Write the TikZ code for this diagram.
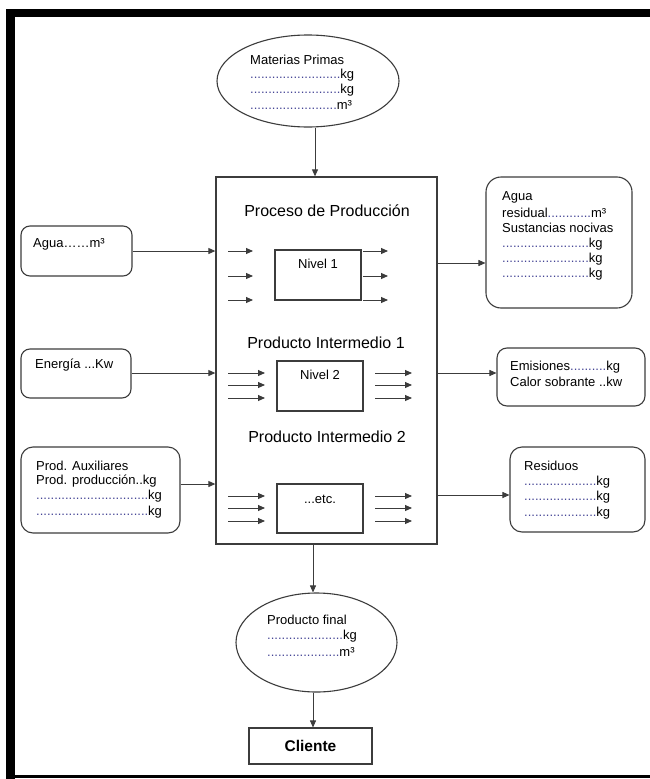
\documentclass[tikz,border=0pt]{standalone}
\usepackage{fontspec}
\setmainfont{Liberation Sans}
\usetikzlibrary{shapes.geometric,arrows.meta}
\definecolor{dotc}{RGB}{70,70,150}
\definecolor{linec}{RGB}{60,60,60}
\newcommand\dd[1]{\textcolor{dotc}{\foreach \i in {1,...,#1}{.}}}
\begin{document}
\begin{tikzpicture}[x=1pt,y=-1pt,
  box/.style={draw=linec, line width=1.1pt, inner sep=0pt},
  conn/.style={draw=linec, line width=0.9pt, -{Triangle[length=7pt,width=6pt]}},
  sarr/.style={draw=linec, line width=0.9pt, -{Triangle[length=7pt,width=6pt]}},
  txt/.style={font=\fontsize{13}{15}\selectfont, anchor=west, inner sep=0pt},
  ctxt/.style={font=\fontsize{13}{15}\selectfont, inner sep=0pt},
  head/.style={font=\fontsize{16}{19}\selectfont, inner sep=0pt},
]
\useasboundingbox (0,0) rectangle (650,779);
\fill[white] (0,0) rectangle (650,779);
% frame
\fill[black] (6,9) rectangle (650,17);
\fill[black] (6,9) rectangle (15,779);
\fill[black] (6,775) rectangle (650,778);

% main process box
\node[box, line width=1.3pt, minimum width=221pt, minimum height=367pt] (main) at (326.5,360.5) {};
\node[head] (h1) at (327,211) {Proceso de Producción};
\node[head] (h2) at (326,343) {Producto Intermedio 1};
\node[head] (h3) at (327,437) {Producto Intermedio 2};

\node[box, minimum width=86pt, minimum height=50pt] (n1) at (318,275) {};
\node[box, minimum width=86pt, minimum height=50pt] (n2) at (320,386) {};
\node[box, minimum width=86pt, minimum height=49pt] (n3) at (320,508.5) {};
\node[ctxt] (n1t) at (318,264) {Nivel 1};
\node[ctxt] (n2t) at (320,375) {Nivel 2};
\node[ctxt] (n3t) at (320,499) {...etc.};

% small arrows
\foreach \y in {251,276,300} {
  \draw[sarr] (228,\y) -- (253,\y);
  \draw[sarr] (363,\y) -- (388,\y);
}
\foreach \y in {373,385,398,496,508,521} {
  \draw[sarr] (228,\y) -- (265,\y);
  \draw[sarr] (375,\y) -- (412,\y);
}

% top ellipse
\node[box, ellipse, minimum width=182pt, minimum height=92pt] (mp) at (308,81) {};
\node[txt] (mp1) at (250,60) {Materias Primas};
\node[txt] (mp2) at (250,75) {\dd{25}kg};
\node[txt] (mp3) at (250,90) {\dd{25}kg};
\node[txt] (mp4) at (250,105) {\dd{24}m³};

% left inputs
\node[box, rounded corners=9pt, minimum width=111pt, minimum height=50pt] (agua) at (76.5,251) {};
\node[txt] (aguat) at (33,244) {Agua……m³};
\node[box, rounded corners=9pt, minimum width=110pt, minimum height=49pt] (ener) at (76,373.5) {};
\node[txt] (enert) at (35,365) {Energía ...Kw};
\node[box, rounded corners=12pt, minimum width=159pt, minimum height=86pt] (prod) at (100.5,490) {};
\node[txt] (pr1) at (36,466) {Prod. Auxiliares};
\node[txt] (pr2) at (36,481) {Prod. producción..kg};
\node[txt] (pr3) at (36,496) {\dd{31}kg};
\node[txt] (pr4) at (36,512) {\dd{31}kg};

% right outputs
\node[box, rounded corners=15pt, minimum width=146pt, minimum height=131pt] (ares) at (559,242.5) {};
\node[txt] (ar1) at (502,197) {Agua};
\node[txt] (ar2) at (502,213) {residual\dd{12}m³};
\node[txt] (ar3) at (502,228) {Sustancias nocivas};
\node[txt] (ar4) at (502,244) {\dd{24}kg};
\node[txt] (ar5) at (502,259) {\dd{24}kg};
\node[txt] (ar6) at (502,274) {\dd{24}kg};
\node[box, rounded corners=10pt, minimum width=148pt, minimum height=58pt] (emis) at (571,377) {};
\node[txt] (em1) at (510,367) {Emisiones\dd{10}kg};
\node[txt] (em2) at (510,382) {Calor sobrante ..kw};
\node[box, rounded corners=12pt, minimum width=135pt, minimum height=85pt] (resid) at (577.5,489.5) {};
\node[txt] (re1) at (524,466) {Residuos};
\node[txt] (re2) at (524,482) {\dd{20}kg};
\node[txt] (re3) at (524,497) {\dd{20}kg};
\node[txt] (re4) at (524,513) {\dd{20}kg};

% bottom
\node[box, ellipse, minimum width=161pt, minimum height=99pt] (pf) at (316.5,642.5) {};
\node[txt] (pf1) at (267,620) {Producto final};
\node[txt] (pf2) at (267,636) {\dd{21}kg};
\node[txt] (pf3) at (267,652) {\dd{20}m³};
\node[box, minimum width=123pt, minimum height=36pt, font=\fontsize{15.5}{18}\selectfont\bfseries] (cli) at (310.5,746) {Cliente};

% connectors
\draw[conn] (mp.south -| 315,0) -- (main.north -| 315,0);
\draw[conn] (main.south -| 313,0) -- (pf.north -| 313,0);
\draw[conn] (pf.south -| 313,0) -- (cli.north -| 313,0);
\draw[conn] (agua.east) -- (agua.east -| main.west);
\draw[conn] (ener.east |- 0,373) -- (main.west |- 0,373);
\draw[conn] (prod.east |- 0,484) -- (main.west |- 0,484);
\draw[conn] (main.east |- 0,263) -- (ares.west |- 0,263);
\draw[conn] (main.east |- 0,373) -- (emis.west |- 0,373);
\draw[conn] (main.east |- 0,495) -- (resid.west |- 0,495);
\end{tikzpicture}
\end{document}
